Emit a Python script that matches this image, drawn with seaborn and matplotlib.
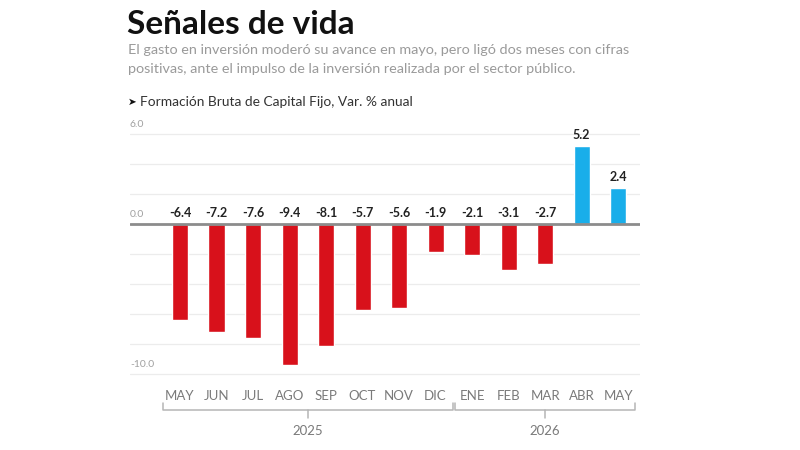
import matplotlib
matplotlib.use("Agg")
import matplotlib.pyplot as plt
import pandas as pd
import seaborn as sns

# Datos: Formación Bruta de Capital Fijo, Var. % anual
periodos = ["MAY-25", "JUN-25", "JUL-25", "AGO-25", "SEP-25", "OCT-25", "NOV-25",
            "DIC-25", "ENE-26", "FEB-26", "MAR-26", "ABR-26", "MAY-26"]
meses = ["MAY", "JUN", "JUL", "AGO", "SEP", "OCT", "NOV", "DIC",
         "ENE", "FEB", "MAR", "ABR", "MAY"]
valores = [-6.4, -7.2, -7.6, -9.4, -8.1, -5.7, -5.6, -1.9, -2.1, -3.1, -2.7, 5.2, 2.4]
anios = ["2025", "2026"]
meses_por_anio = [8, 5]
y_ticks = [-10, 0, 6]

ROJO = "#D8111B"
AZUL = "#19AEEA"
GRIS_TXT = "#9a9a9a"

df = pd.DataFrame({"periodo": periodos, "valor": valores})
df["signo"] = ["pos" if v > 0 else "neg" for v in valores]

sns.set_style("white")
plt.rcParams["font.family"] = ["Lato", "DejaVu Sans"]

fig = plt.figure(figsize=(8, 4.5), dpi=100)
ax = fig.add_axes([130 / 800, 1 - 381.5 / 450, 510 / 800, 262.5 / 450])

sns.barplot(data=df, x="periodo", y="valor", hue="signo", order=periodos,
            palette={"neg": ROJO, "pos": AZUL}, dodge=False, width=0.44,
            legend=False, ax=ax, saturation=1)

ax.set_xlim(-1.37, 12.6)
ax.set_ylim(-10.5, 7)

# cuadrícula cada 2 unidades
for g in range(-10, 7, 2):
    if g != 0:
        ax.axhline(g, color="#ececec", lw=0.9, zorder=0)
ax.axhline(0, color="#8c8c8c", lw=2, zorder=3)

for s in ax.spines.values():
    s.set_visible(False)
ax.set_yticks([])
ax.set_xlabel("")
ax.set_ylabel("")
ax.set_xticks(range(len(meses)))
ax.set_xticklabels(meses, fontsize=9.5, color="#7a7a7a")
ax.tick_params(axis="x", length=0, pad=6)

# etiquetas del eje y, encima de la línea
for t in y_ticks:
    ax.text(-1.37, t + 0.35, f"{t:.1f}", fontsize=7.5, color="#a0a0a0",
            ha="left", va="bottom")

# etiquetas de valores
for i, v in enumerate(valores):
    y = v + 0.35 if v > 0 else 0.35
    ax.text(i, y, f"{v:.1f}", ha="center", va="bottom", fontsize=9,
            fontweight="bold", color="#222222")

# llaves de años
tr = ax.get_xaxis_transform()
inicio = 0
for anio, n in zip(anios, meses_por_anio):
    x0 = inicio - 0.47
    x1 = inicio + n - 1 + 0.47
    yb, yt = -0.11, -0.08
    ax.plot([x0, x0, x1, x1], [yt, yb, yb, yt], transform=tr, clip_on=False,
            color="#b5b5b5", lw=1.1, solid_joinstyle="round", solid_capstyle="round")
    xm = (x0 + x1) / 2
    ax.plot([xm, xm], [yb, yb - 0.03], transform=tr, clip_on=False,
            color="#b5b5b5", lw=1.1)
    ax.text(xm, -0.19, anio, transform=tr, ha="center", va="center",
            fontsize=9.5, color="#7a7a7a")
    inicio += n

# títulos
fig.text(127 / 800, 1 - 25 / 450, "Señales de vida", fontsize=24,
         fontweight="bold", color="#111111", ha="left", va="center")
fig.text(128 / 800, 1 - 50 / 450,
         "El gasto en inversión moderó su avance en mayo, pero ligó dos meses con cifras",
         fontsize=10.4, color=GRIS_TXT, ha="left", va="center")
fig.text(128 / 800, 1 - 69 / 450,
         "positivas, ante el impulso de la inversión realizada por el sector público.",
         fontsize=10.4, color=GRIS_TXT, ha="left", va="center")
fig.text(128 / 800, 1 - 102 / 450, "➤", fontsize=7.5, color="#111111",
         ha="left", va="center", family=["DejaVu Sans"])
fig.text(140 / 800, 1 - 102 / 450, "Formación Bruta de Capital Fijo, Var. % anual",
         fontsize=9.9, color="#333333", ha="left", va="center")

fig.savefig("out.png", dpi=100, facecolor="white")
